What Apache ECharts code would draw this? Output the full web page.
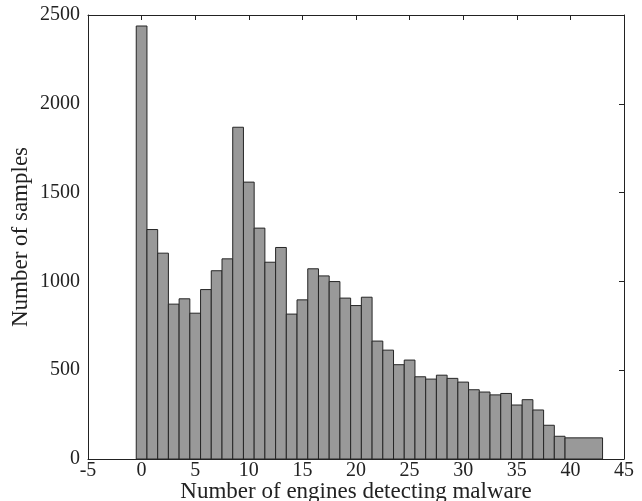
<!DOCTYPE html>
<html>
<head>
<meta charset="utf-8">
<script src="https://cdn.jsdelivr.net/npm/echarts@6/dist/echarts.min.js"></script>
<style>
  html, body { margin: 0; padding: 0; background: #fff; }
  #chart { width: 642px; height: 501px; }
</style>
</head>
<body>
<div id="chart"></div>
<script>
// bin edges along x (last bin is wider)
const binEdges = [-0.5, 0.5, 1.5, 2.5, 3.5, 4.5, 5.5, 6.5, 7.5, 8.5, 9.5,
  10.5, 11.5, 12.5, 13.5, 14.5, 15.5, 16.5, 17.5, 18.5, 19.5,
  20.5, 21.5, 22.5, 23.5, 24.5, 25.5, 26.5, 27.5, 28.5, 29.5,
  30.5, 31.5, 32.5, 33.5, 34.5, 35.5, 36.5, 37.5, 38.5, 39.5, 43];

// sample count per bin
const counts = [2438, 1292, 1159, 872, 902, 821, 954, 1060, 1127, 1868,
  1559, 1300, 1108, 1191, 816, 896, 1071, 1031, 999, 906,
  864, 911, 664, 613, 531, 557, 463, 450, 472, 454,
  433, 390, 377, 361, 369, 304, 334, 276, 190, 128, 119];

const xTicks = [-5, 0, 5, 10, 15, 20, 25, 30, 35, 40, 45];
const yTicks = [0, 500, 1000, 1500, 2000, 2500];

const xTitle = 'Number of engines detecting malware';
const yTitle = 'Number of samples';

const font = 'Liberation Serif';
const ink = '#222';

const data = counts.map((c, i) => [binEdges[i], binEdges[i + 1], c]);

const chart = echarts.init(document.getElementById('chart'));

// top and right edges of the box, ticks pointing inwards
const frameAxis = {
  axisLine: { show: true, onZero: false, lineStyle: { color: ink, width: 1 } },
  axisTick: { show: true, inside: true, length: 5, lineStyle: { color: ink } },
  axisLabel: { show: false },
  splitLine: { show: false }
};

chart.setOption({
  animation: false,
  grid: { left: 88, right: 18, top: 15, bottom: 42, outerBoundsMode: 'none' },
  xAxis: [
    {
      type: 'value',
      min: xTicks[0],
      max: xTicks[xTicks.length - 1],
      interval: 5,
      name: xTitle,
      nameLocation: 'middle',
      nameGap: 21,
      nameMoveOverlap: false,
      nameTextStyle: { fontFamily: font, fontSize: 23, color: ink },
      axisLine: { onZero: false, lineStyle: { color: ink, width: 1 } },
      axisTick: { show: false },
      axisLabel: { fontFamily: font, fontSize: 20, color: ink, margin: 2, formatter: v => String(v) },
      splitLine: { show: false }
    },
    Object.assign({ type: 'value', position: 'top', min: xTicks[0], max: xTicks[xTicks.length - 1], interval: 5 }, frameAxis)
  ],
  yAxis: [
    {
      type: 'value',
      min: yTicks[0],
      max: yTicks[yTicks.length - 1],
      interval: 500,
      name: yTitle,
      nameLocation: 'middle',
      nameGap: 56,
      nameMoveOverlap: false,
      nameTextStyle: { fontFamily: font, fontSize: 23, color: ink },
      axisLine: { show: true, onZero: false, lineStyle: { color: ink, width: 1 } },
      axisTick: { show: false },
      axisLabel: { fontFamily: font, fontSize: 20, color: ink, margin: 8, formatter: v => String(v) },
      splitLine: { show: false }
    },
    Object.assign({ type: 'value', position: 'right', min: yTicks[0], max: yTicks[yTicks.length - 1], interval: 500 }, frameAxis)
  ],
  series: [
    {
      type: 'custom',
      xAxisIndex: 0,
      yAxisIndex: 0,
      data: data,
      encode: { x: [0, 1], y: 2 },
      renderItem: function (params, api) {
        const topLeft = api.coord([api.value(0), api.value(2)]);
        const bottomRight = api.coord([api.value(1), 0]);
        return {
          type: 'rect',
          shape: {
            x: topLeft[0],
            y: topLeft[1],
            width: bottomRight[0] - topLeft[0],
            height: bottomRight[1] - topLeft[1]
          },
          style: { fill: '#999999', stroke: '#262626', lineWidth: 1 }
        };
      }
    }
  ]
});
</script>
</body>
</html>
